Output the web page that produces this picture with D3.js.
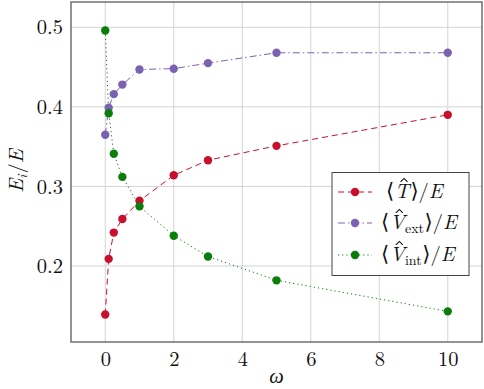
<!DOCTYPE html>
<html><head><meta charset="utf-8">
<script src="https://cdn.jsdelivr.net/npm/d3@7/dist/d3.min.js"></script>
<style>body{margin:0;background:#fff}svg{display:block}</style>
</head><body>
<svg id="c" width="484" height="389"></svg>
<script>
const omega = [0, 0.1, 0.25, 0.5, 1, 2, 3, 5, 10];
const kinetic = [0.139, 0.209, 0.242, 0.259, 0.282, 0.314, 0.333, 0.351, 0.390];
const vext = [0.365, 0.399, 0.416, 0.428, 0.447, 0.448, 0.455, 0.468, 0.468];
const vint = [0.496, 0.392, 0.341, 0.312, 0.275, 0.238, 0.212, 0.182, 0.143];
const xTicks = [0, 2, 4, 6, 8, 10];
const yTicks = [0.2, 0.3, 0.4, 0.5];

const series = [
  {name: "T", values: kinetic, color: "#c8102e", dash: "6,4"},
  {name: "ext", values: vext, color: "#7b62b0", dash: "7,3,1.5,3"},
  {name: "int", values: vint, color: "#0b7d0b", dash: "1.2,3"}
];

const svg = d3.select("#c");
const L = 71, R = 482, T = 2, B = 342;
const x = d3.scaleLinear().domain([-1, 11]).range([L, R]);
const y = d3.scaleLinear().domain([0.1045, 0.5318]).range([B, T]);
const font = "'Latin Modern Roman','CMU Serif','Liberation Serif',serif";
const FS = 20.5;

// grid
svg.append("g").selectAll("line").data(xTicks).join("line")
  .attr("x1", d => x(d)).attr("x2", d => x(d)).attr("y1", T).attr("y2", B)
  .attr("stroke", "#d4d4d4").attr("stroke-width", 1);
svg.append("g").selectAll("line").data(yTicks).join("line")
  .attr("y1", d => y(d)).attr("y2", d => y(d)).attr("x1", L).attr("x2", R)
  .attr("stroke", "#d4d4d4").attr("stroke-width", 1);

// axes via d3
const xAxis = d3.axisBottom(x).tickValues(xTicks).tickSize(0).tickPadding(9).tickFormat(d3.format("d"));
const gx = svg.append("g").attr("transform", `translate(0,${B})`).call(xAxis);
gx.select(".domain").remove();
gx.selectAll("text").attr("font-family", font).attr("font-size", FS).attr("fill", "#111");

const yAxis = d3.axisLeft(y).tickValues(yTicks).tickSize(0).tickPadding(8).tickFormat(d3.format(".1f"));
const gy = svg.append("g").attr("transform", `translate(${L},0)`).call(yAxis);
gy.select(".domain").remove();
gy.selectAll("text").attr("font-family", font).attr("font-size", FS).attr("fill", "#111");

// frame
svg.append("rect").attr("x", L).attr("y", T).attr("width", R - L).attr("height", B - T)
  .attr("fill", "none").attr("stroke", "#5a5a5a").attr("stroke-width", 1.3);

// series
const line = d3.line().x((d, i) => x(omega[i])).y(d => y(d));
series.forEach(s => {
  svg.append("path").datum(s.values).attr("d", line)
    .attr("fill", "none").attr("stroke", s.color).attr("stroke-width", 1)
    .attr("stroke-dasharray", s.dash);
});
series.forEach(s => {
  svg.append("g").selectAll("circle").data(s.values).join("circle")
    .attr("cx", (d, i) => x(omega[i])).attr("cy", d => y(d)).attr("r", 4.2)
    .attr("fill", s.color);
});

// math text helper: sequence of pieces, measured
function mathText(g, x0, y0, parts) {
  let cx = x0;
  parts.forEach(p => {
    const size = p.size || FS;
    const t = g.append("text").attr("x", cx).attr("y", y0 + (p.dy || 0))
      .attr("font-family", p.font || font).attr("font-size", size).attr("fill", "#111")
      .attr("font-style", p.italic ? "italic" : "normal").text(p.t);
    const w = t.node().getComputedTextLength();
    if (p.hat) {
      const hx = cx + w / 2 + 2, top = y0 - size * 0.66;
      g.append("path")
        .attr("d", `M${hx - 3.5},${top - 2.5}L${hx},${top - 6}L${hx + 3.5},${top - 2.5}`)
        .attr("fill", "none").attr("stroke", "#111").attr("stroke-width", 1.1);
    }
    cx += w + (p.after || 0);
  });
}

// axis labels
svg.append("text").attr("x", (L + R) / 2).attr("y", 383)
  .attr("text-anchor", "middle").attr("font-family", font).attr("font-size", FS)
  .attr("font-style", "italic").attr("fill", "#111").text("ω");

const yl = svg.append("text").attr("transform", `translate(23,171) rotate(-90)`)
  .attr("text-anchor", "middle").attr("font-family", font).attr("font-size", FS).attr("fill", "#111");
yl.append("tspan").attr("font-style", "italic").text("E");
yl.append("tspan").attr("font-style", "italic").attr("font-size", 14).attr("dy", 4).text("i");
yl.append("tspan").attr("dy", -4).attr("dx", 1).text("/");
yl.append("tspan").attr("font-style", "italic").text("E");

// legend
const lg = svg.append("g");
lg.append("rect").attr("x", 332).attr("y", 172.5).attr("width", 137).attr("height", 103)
  .attr("fill", "#fff").attr("stroke", "#444").attr("stroke-width", 1);
const ly = [192, 223, 255];
series.forEach((s, i) => {
  lg.append("line").attr("x1", 338).attr("x2", 372).attr("y1", ly[i]).attr("y2", ly[i])
    .attr("stroke", s.color).attr("stroke-width", 1).attr("stroke-dasharray", s.dash);
  lg.append("circle").attr("cx", 355).attr("cy", ly[i]).attr("r", 4.2).attr("fill", s.color);
  const parts = [{t: "⟨", font: "'DejaVu Serif',serif", size: 21, after: 0.5}];
  if (s.name === "T") {
    parts.push({t: "T", italic: true, hat: true, after: 1});
  } else {
    parts.push({t: "V", italic: true, hat: true, after: 0});
    parts.push({t: s.name, size: 14, dy: 4, after: 0.5});
  }
  parts.push({t: "⟩", font: "'DejaVu Serif',serif", size: 21, after: 0});
  parts.push({t: "/", after: 0});
  parts.push({t: "E", italic: true});
  mathText(lg, i === 0 ? 386 : 381, ly[i] + 6, parts);
});
</script>
</body></html>
